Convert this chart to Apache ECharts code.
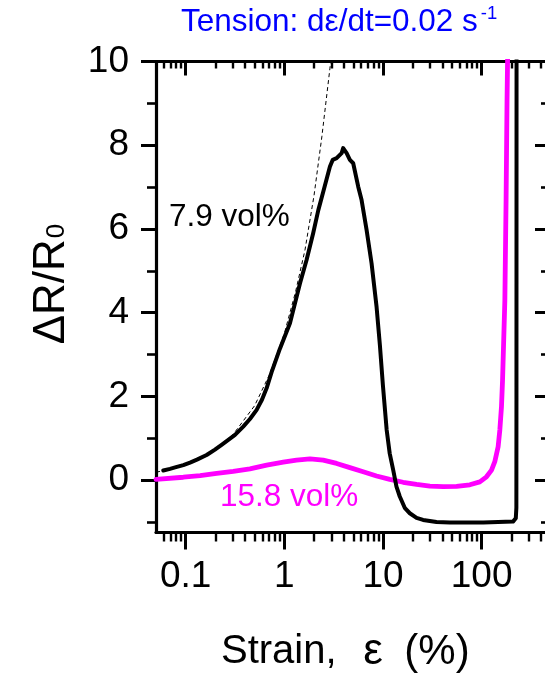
<!DOCTYPE html>
<html>
<head>
<meta charset="utf-8">
<script src="https://cdn.jsdelivr.net/npm/echarts@6/dist/echarts.min.js"></script>
<style>
  html, body { margin: 0; padding: 0; background: #ffffff; }
  #chart { width: 545px; height: 681px; }
</style>
</head>
<body>
<div id="chart"></div>
<script>
// Strain (%) and resistance change for the 7.9 vol% sample
const strain79 = [0.0593, 0.0693, 0.0797, 0.0946, 0.1106, 0.130, 0.163, 0.198, 0.233, 0.316, 0.383, 0.448, 0.524, 0.593, 0.662, 0.743, 0.902, 1.14, 1.44, 1.68, 1.96, 2.21, 2.48, 2.90, 3.09, 3.39, 3.81, 3.95, 4.28, 4.62, 4.99, 5.61, 6.07, 6.82, 7.66, 8.61, 9.30, 9.98, 10.9, 11.7, 12.7, 13.7, 14.8, 16.7, 18.7, 21.9, 25.5, 34.9, 47.6, 104, 208, 222, 225, 225.5, 226];
const dR79 = [0.23, 0.27, 0.31, 0.36, 0.42, 0.49, 0.60, 0.73, 0.85, 1.08, 1.28, 1.46, 1.68, 1.92, 2.20, 2.58, 3.14, 3.75, 4.70, 5.26, 5.90, 6.45, 6.89, 7.49, 7.65, 7.69, 7.81, 7.93, 7.81, 7.65, 7.57, 7.01, 6.69, 5.98, 5.18, 4.14, 3.23, 2.27, 1.20, 0.64, 0.24, -0.155, -0.39, -0.67, -0.79, -0.90, -0.95, -1.00, -1.01, -1.01, -0.99, -0.91, -0.66, 2.0, 10.6];

// Strain (%) and resistance change for the 15.8 vol% sample
const strain158 = [0.05, 0.0946, 0.140, 0.206, 0.303, 0.448, 0.662, 0.975, 1.33, 1.82, 2.48, 3.39, 4.62, 6.30, 8.61, 11.7, 16.0, 21.9, 29.9, 40.7, 55.7, 75.9, 95.9, 112, 126, 136, 147, 153, 159, 163, 172, 177, 181, 185];
const dR158 = [0.02, 0.07, 0.11, 0.16, 0.21, 0.27, 0.36, 0.43, 0.48, 0.51, 0.48, 0.40, 0.30, 0.20, 0.10, 0.02, -0.05, -0.10, -0.14, -0.155, -0.15, -0.11, -0.04, 0.08, 0.24, 0.44, 0.80, 1.20, 1.76, 2.39, 4.30, 6.69, 9.08, 10.75];

// Linear fit of the initial response (dashed guide)
const fitStrain = [0.05, 0.07, 0.1, 0.15, 0.2, 0.3, 0.5, 0.7, 1.0, 1.3, 1.62, 2.0, 2.4, 2.9, 3.05];
const fitDR = [0.19, 0.26, 0.37, 0.55, 0.73, 1.08, 1.78, 2.5, 3.5, 4.5, 5.5, 6.8, 8.2, 9.84, 10.3];

// Axis ranges and tick positions
const xRange = [0.05, 460];
const yRange = [-1.25, 10];
const xMajorTicks = [0.1, 1, 10, 100];
const xMinorTicks = [0.06, 0.07, 0.08, 0.09, 0.2, 0.3, 0.4, 0.5, 0.6, 0.7, 0.8, 0.9,
  2, 3, 4, 5, 6, 7, 8, 9, 20, 30, 40, 50, 60, 70, 80, 90, 200, 300, 400];
const yMajorTicks = [0, 2, 4, 6, 8, 10];
const yMinorTicks = [-1, 1, 3, 5, 7, 9];

const FONT = 'Liberation Sans, Arial, sans-serif';
const pairs = (xs, ys) => xs.map((x, i) => [x, ys[i]]);

function xAxisDef(position, ticks, len, inside, withLine, withLabels, width) {
  return {
    type: 'log', position, min: xRange[0], max: xRange[1], logBase: 10,
    axisLine: { show: withLine, onZero: false, lineStyle: { color: '#000', width: 3.2 } },
    axisTick: { show: true, customValues: ticks, length: len, inside, lineStyle: { color: '#000', width } },
    axisLabel: withLabels ? {
      show: true, customValues: ticks, color: '#000', fontFamily: FONT, fontSize: 37, margin: 26,
      formatter: v => String(v)
    } : { show: false },
    splitLine: { show: false }, minorTick: { show: false }
  };
}
function yAxisDef(position, ticks, len, inside, withLine, withLabels, width) {
  return {
    type: 'value', position, min: yRange[0], max: yRange[1],
    axisLine: { show: withLine, onZero: false, lineStyle: { color: '#000', width: 3.2 } },
    axisTick: { show: true, customValues: ticks, length: len, inside, lineStyle: { color: '#000', width } },
    axisLabel: withLabels ? {
      show: true, customValues: ticks, color: '#000', fontFamily: FONT, fontSize: 37, margin: 27
    } : { show: false },
    splitLine: { show: false }
  };
}

const chart = echarts.init(document.getElementById('chart'), null, { renderer: 'canvas' });
chart.setOption({
  animation: false,
  backgroundColor: '#ffffff',
  grid: { left: 156, top: 61.5, width: 391, height: 471, outerBoundsMode: 'none', containLabel: false },
  xAxis: [
    xAxisDef('bottom', xMajorTicks, 17, false, true, true, 3),
    xAxisDef('bottom', xMinorTicks, 9, false, false, false, 2.4),
    xAxisDef('top', xMajorTicks, 14, true, true, false, 3),
    xAxisDef('top', xMinorTicks, 7, true, false, false, 2.4)
  ],
  yAxis: [
    yAxisDef('left', yMajorTicks, 15, false, true, true, 3),
    yAxisDef('left', yMinorTicks, 9, false, false, false, 2.6),
    yAxisDef('right', yMajorTicks, 12, true, true, false, 3),
    yAxisDef('right', yMinorTicks, 6, true, false, false, 2.6)
  ],
  series: [
    {
      type: 'line', name: 'fit', data: pairs(fitStrain, fitDR), showSymbol: false, symbol: 'none',
      lineStyle: { color: '#000', width: 1, type: [4, 3] }, clip: true, z: 1
    },
    {
      type: 'line', name: '15.8 vol%', data: pairs(strain158, dR158), showSymbol: false, symbol: 'none',
      lineStyle: { color: '#ff00ff', width: 4.8, join: 'round', cap: 'round' }, clip: true, z: 2
    },
    {
      type: 'line', name: '7.9 vol%', data: pairs(strain79, dR79), showSymbol: false, symbol: 'none',
      lineStyle: { color: '#000', width: 4, join: 'round', cap: 'round' }, clip: true, z: 3
    }
  ],
  graphic: [
    {
      type: 'text', x: 181, y: 22,
      style: {
        text: '{a|Tension: d\u03b5/dt=0.02 s}{b|-1}', align: 'left', verticalAlign: 'middle',
        rich: {
          a: { fontFamily: FONT, fontSize: 31.5, fill: '#0000ff' },
          b: { fontFamily: FONT, fontSize: 18.5, fill: '#0000ff', padding: [0, 0, 16, 3] }
        }
      }
    },
    { type: 'text', x: 169, y: 217, style: { text: '7.9 vol%', font: '31.5px ' + FONT, fill: '#000', align: 'left', verticalAlign: 'middle' } },
    { type: 'text', x: 220, y: 497.5, style: { text: '15.8 vol%', font: '31.5px ' + FONT, fill: '#ff00ff', align: 'left', verticalAlign: 'middle' } },
    { type: 'text', x: 221, y: 652, style: { text: 'Strain,', font: '40px ' + FONT, fill: '#000', align: 'left', verticalAlign: 'middle' } },
    { type: 'text', x: 373, y: 652, style: { text: '\u03b5', font: '44px ' + FONT, fill: '#000', align: 'center', verticalAlign: 'middle' } },
    { type: 'text', x: 437, y: 652, style: { text: '(%)', font: '42px ' + FONT, fill: '#000', align: 'center', verticalAlign: 'middle' } },
    {
      type: 'text', x: 52, y: 284, rotation: Math.PI / 2,
      style: {
        text: '{m|\u0394R/R}{s|0}', align: 'center', verticalAlign: 'middle', fill: '#000',
        rich: {
          m: { fontFamily: FONT, fontSize: 44, fill: '#000' },
          s: { fontFamily: FONT, fontSize: 26, fill: '#000', padding: [10, 0, 0, 1] }
        }
      }
    }
  ]
});
</script>
</body>
</html>
